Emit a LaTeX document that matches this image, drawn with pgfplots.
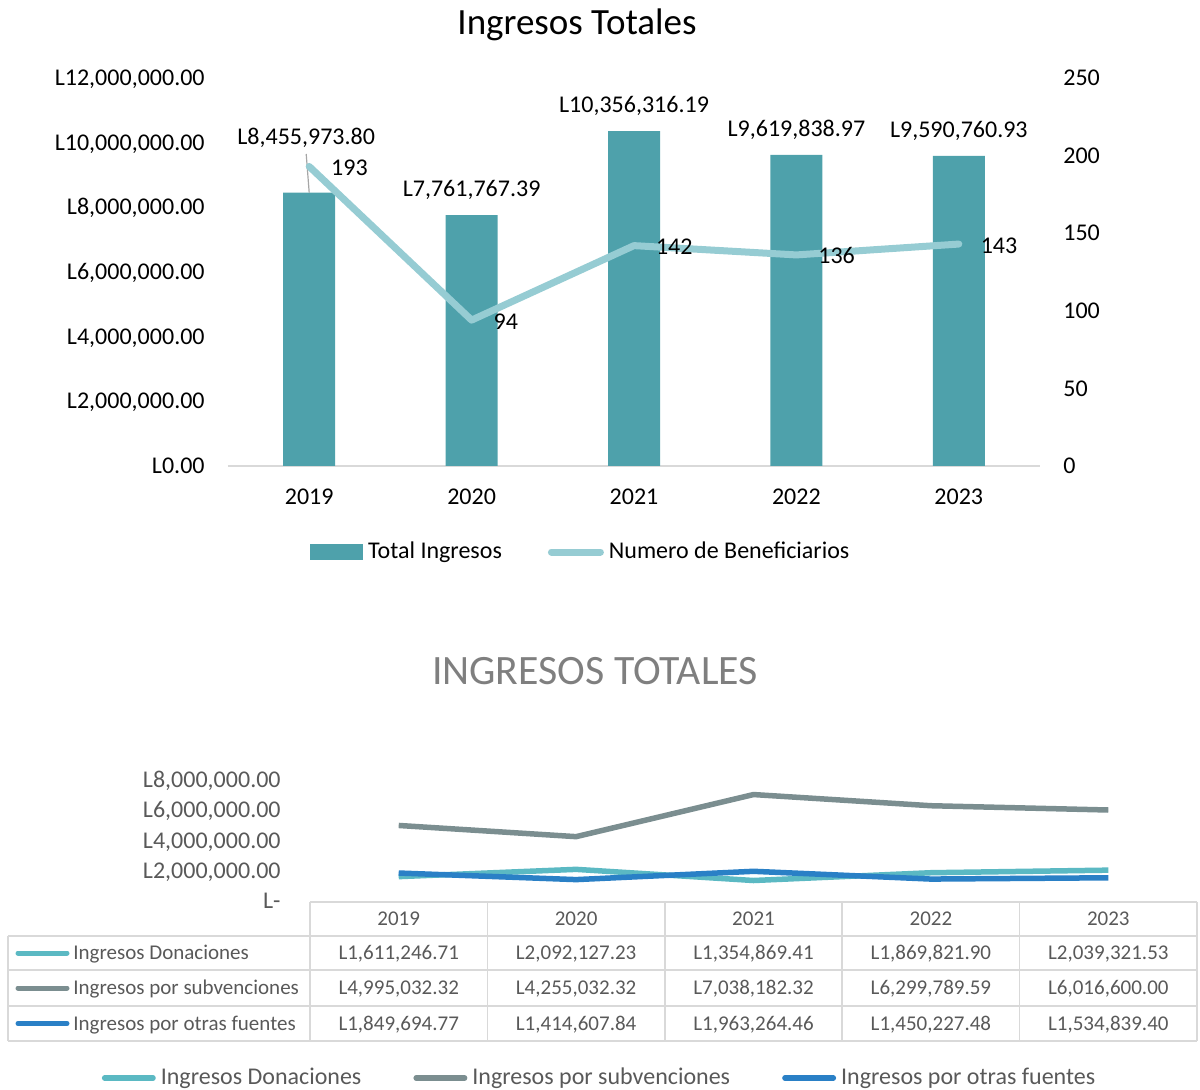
\documentclass[border=0pt]{standalone}
\usepackage{fontspec}
\setmainfont{Carlito}
\usepackage{pgfplots}
\pgfplotsset{compat=1.18}
\definecolor{barcol}{HTML}{4EA1AB}
\definecolor{linecol}{HTML}{96CCD3}
\definecolor{donc}{HTML}{5BB9C3}
\definecolor{subc}{HTML}{7B8E90}
\definecolor{otrc}{HTML}{2A80C6}
\definecolor{txtg}{HTML}{595959}
\definecolor{ttlg}{HTML}{7F7F7F}
\definecolor{gridc}{HTML}{D9D9D9}
\newcommand{\twelve}{\fontsize{12pt}{14.4pt}\selectfont}
\newcommand{\tabf}{\fontsize{10.5pt}{12.6pt}\selectfont}
\begin{document}
\begin{tikzpicture}
\path[use as bounding box] (0,0) rectangle (600pt,544.5pt);
\node[anchor=base, font=\fontsize{18.5pt}{22pt}\selectfont, inner sep=0pt] at (288.5pt,527pt) {Ingresos Totales};

\begin{axis}[at={(114pt,311.5pt)}, anchor=south west, scale only axis,
  width=406pt, height=194pt,
  xmin=-0.5, xmax=4.5, ymin=0, ymax=12000000,
  scaled y ticks=false,
  axis x line*=bottom, axis y line*=left,
  x axis line style={gridc, line width=1pt, -},
  y axis line style={draw=none},
  xtick={0,1,2,3,4}, xticklabels={2019,2020,2021,2022,2023},
  ytick={0,2000000,4000000,6000000,8000000,10000000,12000000},
  yticklabels={{L0.00},{L2,000,000.00},{L4,000,000.00},{L6,000,000.00},{L8,000,000.00},{L10,000,000.00},{L12,000,000.00}},
  major tick length=0pt,
  xticklabel style={anchor=base, inner sep=0pt, yshift=-19.5pt, font=\twelve},
  yticklabel style={anchor=base east, inner sep=0pt, xshift=-11.5pt, yshift=-3.8pt, font=\twelve},
  clip=false]
\addplot[ybar, bar width=26pt, fill=barcol, draw=none] coordinates {(0,8455973.80) (1,7761767.39) (2,10356316.19) (3,9619838.97) (4,9590760.93)};
\draw[gray!70, line width=0.6pt] ([xshift=-1.5pt,yshift=19.3pt]axis cs:0,8455973.80) -- (axis cs:0,8455973.80);
\node[anchor=base, font=\twelve, inner sep=0pt] at ([xshift=-1.5pt,yshift=24pt]axis cs:0,8455973.80) {L8,455,973.80};
\node[anchor=base, font=\twelve, inner sep=0pt] at ([yshift=9.25pt]axis cs:1,7761767.39) {L7,761,767.39};
\node[anchor=base, font=\twelve, inner sep=0pt] at ([yshift=9.25pt]axis cs:2,10356316.19) {L10,356,316.19};
\node[anchor=base, font=\twelve, inner sep=0pt] at ([yshift=9.25pt]axis cs:3,9619838.97) {L9,619,838.97};
\node[anchor=base, font=\twelve, inner sep=0pt] at ([yshift=9.25pt]axis cs:4,9590760.93) {L9,590,760.93};
\end{axis}

\begin{axis}[at={(114pt,311.5pt)}, anchor=south west, scale only axis,
  width=406pt, height=194pt,
  xmin=-0.5, xmax=4.5, ymin=0, ymax=250,
  axis x line=none, axis y line*=right,
  y axis line style={draw=none},
  xtick=\empty,
  ytick={0,50,100,150,200,250},
  yticklabels={0,50,100,150,200,250},
  major tick length=0pt,
  yticklabel style={anchor=base west, inner sep=0pt, xshift=11.5pt, yshift=-3.8pt, font=\twelve},
  /pgf/number format/assume math mode=true,
  clip=false,
  legend style={at={(0.4329,-0.2217)}, anchor=center, draw=none, fill=none,
    legend columns=2, font=\twelve, inner sep=0pt, nodes={inner sep=0pt},
    /tikz/every even column/.append style={column sep=23pt}},
  legend cell align=left]
\addlegendimage{legend image code/.code={\fill[barcol] (0pt,-3.75pt) rectangle (26pt,3.75pt); \path[draw=none,fill=none] (0pt,0pt) -- (29pt,0pt);}}
\addlegendentry{Total Ingresos}
\addplot[linecol, line width=3.5pt, line join=round, line cap=round, mark=none,
  nodes near coords,
  every node near coord/.append style={anchor=base west, inner sep=0pt, xshift=9.25pt, yshift=-4.5pt, font=\twelve, text=black},
  legend image code/.code={\draw[linecol, line width=3.5pt, line cap=round] (1.75pt,0pt) -- (26.25pt,0pt); \path[draw=none,fill=none] (0pt,0pt) -- (30.5pt,0pt);}]
  coordinates {(0,193) (1,94) (2,142) (3,136) (4,143)};
\addlegendentry{Numero de Beneficiarios}
\end{axis}

\node[anchor=base, font=\fontsize{20.9pt}{25pt}\selectfont, text=ttlg, inner sep=0pt] at (297.5pt,202.5pt) {INGRESOS TOTALES};

\begin{axis}[at={(155pt,94pt)}, anchor=south west, scale only axis,
  width=443.5pt, height=60.5pt,
  xmin=-0.5, xmax=4.5, ymin=0, ymax=8000000,
  scaled y ticks=false,
  axis line style={draw=none},
  xtick=\empty,
  ytick={0,2000000,4000000,6000000,8000000},
  yticklabels={{L-\hspace{5pt}},{L2,000,000.00},{L4,000,000.00},{L6,000,000.00},{L8,000,000.00}},
  major tick length=0pt,
  yticklabel style={anchor=base east, inner sep=0pt, xshift=-14.5pt, yshift=-3.8pt, font=\twelve, text=txtg},
  clip=false,
  legend style={at={(0.3253,-1.4628)}, anchor=center, draw=none, fill=none,
    legend columns=3, font=\twelve, text=txtg, inner sep=0pt, nodes={inner sep=0pt},
    /tikz/every even column/.append style={column sep=26pt}},
  legend cell align=left,
  legend image code/.code={\draw[#1, line width=2.75pt, line cap=round] (1.4pt,0pt) -- (25.6pt,0pt); \path[draw=none,fill=none] (0pt,0pt) -- (29.5pt,0pt);}]
\addplot[donc, line width=2.75pt, line join=round] coordinates {(0,1611246.71) (1,2092127.23) (2,1354869.41) (3,1869821.90) (4,2039321.53)};
\addlegendentry{Ingresos Donaciones}
\addplot[subc, line width=2.75pt, line join=round] coordinates {(0,4995032.32) (1,4255032.32) (2,7038182.32) (3,6299789.59) (4,6016600.00)};
\addlegendentry{Ingresos por subvenciones}
\addplot[otrc, line width=2.75pt, line join=round] coordinates {(0,1849694.77) (1,1414607.84) (2,1963264.46) (3,1450227.48) (4,1534839.40)};
\addlegendentry{Ingresos por otras fuentes}
\end{axis}

\begin{scope}[shift={(0pt,544.5pt)}, x=0.5pt, y=-0.5pt]
\draw[gridc, line width=0.8pt] (310,902) -- (1197,902);
\draw[gridc, line width=0.8pt] (8,936) -- (1197,936);
\draw[gridc, line width=0.8pt] (8,970) -- (1197,970);
\draw[gridc, line width=0.8pt] (8,1006) -- (1197,1006);
\draw[gridc, line width=0.8pt] (8,1041) -- (1197,1041);
\draw[gridc, line width=0.8pt] (8,936) -- (8,1041);
\draw[gridc, line width=0.8pt] (310,902) -- (310,1041);
\draw[gridc, line width=0.8pt] (487.4,902) -- (487.4,1041);
\draw[gridc, line width=0.8pt] (664.8,902) -- (664.8,1041);
\draw[gridc, line width=0.8pt] (842.2,902) -- (842.2,1041);
\draw[gridc, line width=0.8pt] (1019.6,902) -- (1019.6,1041);
\draw[gridc, line width=0.8pt] (1197,902) -- (1197,1041);
\begin{scope}[every node/.style={font=\tabf, text=txtg, inner sep=0pt, anchor=base}]
\node at (398.7,925) {2019};
\node at (576.1,925) {2020};
\node at (753.5,925) {2021};
\node at (930.9,925) {2022};
\node at (1108.3,925) {2023};
\node at (398.7,959.6) {L1,611,246.71};
\node at (576.1,959.6) {L2,092,127.23};
\node at (753.5,959.6) {L1,354,869.41};
\node at (930.9,959.6) {L1,869,821.90};
\node at (1108.3,959.6) {L2,039,321.53};
\node at (398.7,994.6) {L4,995,032.32};
\node at (576.1,994.6) {L4,255,032.32};
\node at (753.5,994.6) {L7,038,182.32};
\node at (930.9,994.6) {L6,299,789.59};
\node at (1108.3,994.6) {L6,016,600.00};
\node at (398.7,1030.1) {L1,849,694.77};
\node at (576.1,1030.1) {L1,414,607.84};
\node at (753.5,1030.1) {L1,963,264.46};
\node at (930.9,1030.1) {L1,450,227.48};
\node at (1108.3,1030.1) {L1,534,839.40};
\node[anchor=base west] at (73,959.6) {Ingresos Donaciones};
\node[anchor=base west] at (73,994.6) {Ingresos por subvenciones};
\node[anchor=base west] at (73,1030.1) {Ingresos por otras fuentes};
\end{scope}
\draw[donc, line width=2.5pt, line cap=round] (18,953) -- (67,953);
\draw[subc, line width=2.5pt, line cap=round] (18,988) -- (67,988);
\draw[otrc, line width=2.5pt, line cap=round] (18,1023.5) -- (67,1023.5);
\end{scope}
\end{tikzpicture}
\end{document}
